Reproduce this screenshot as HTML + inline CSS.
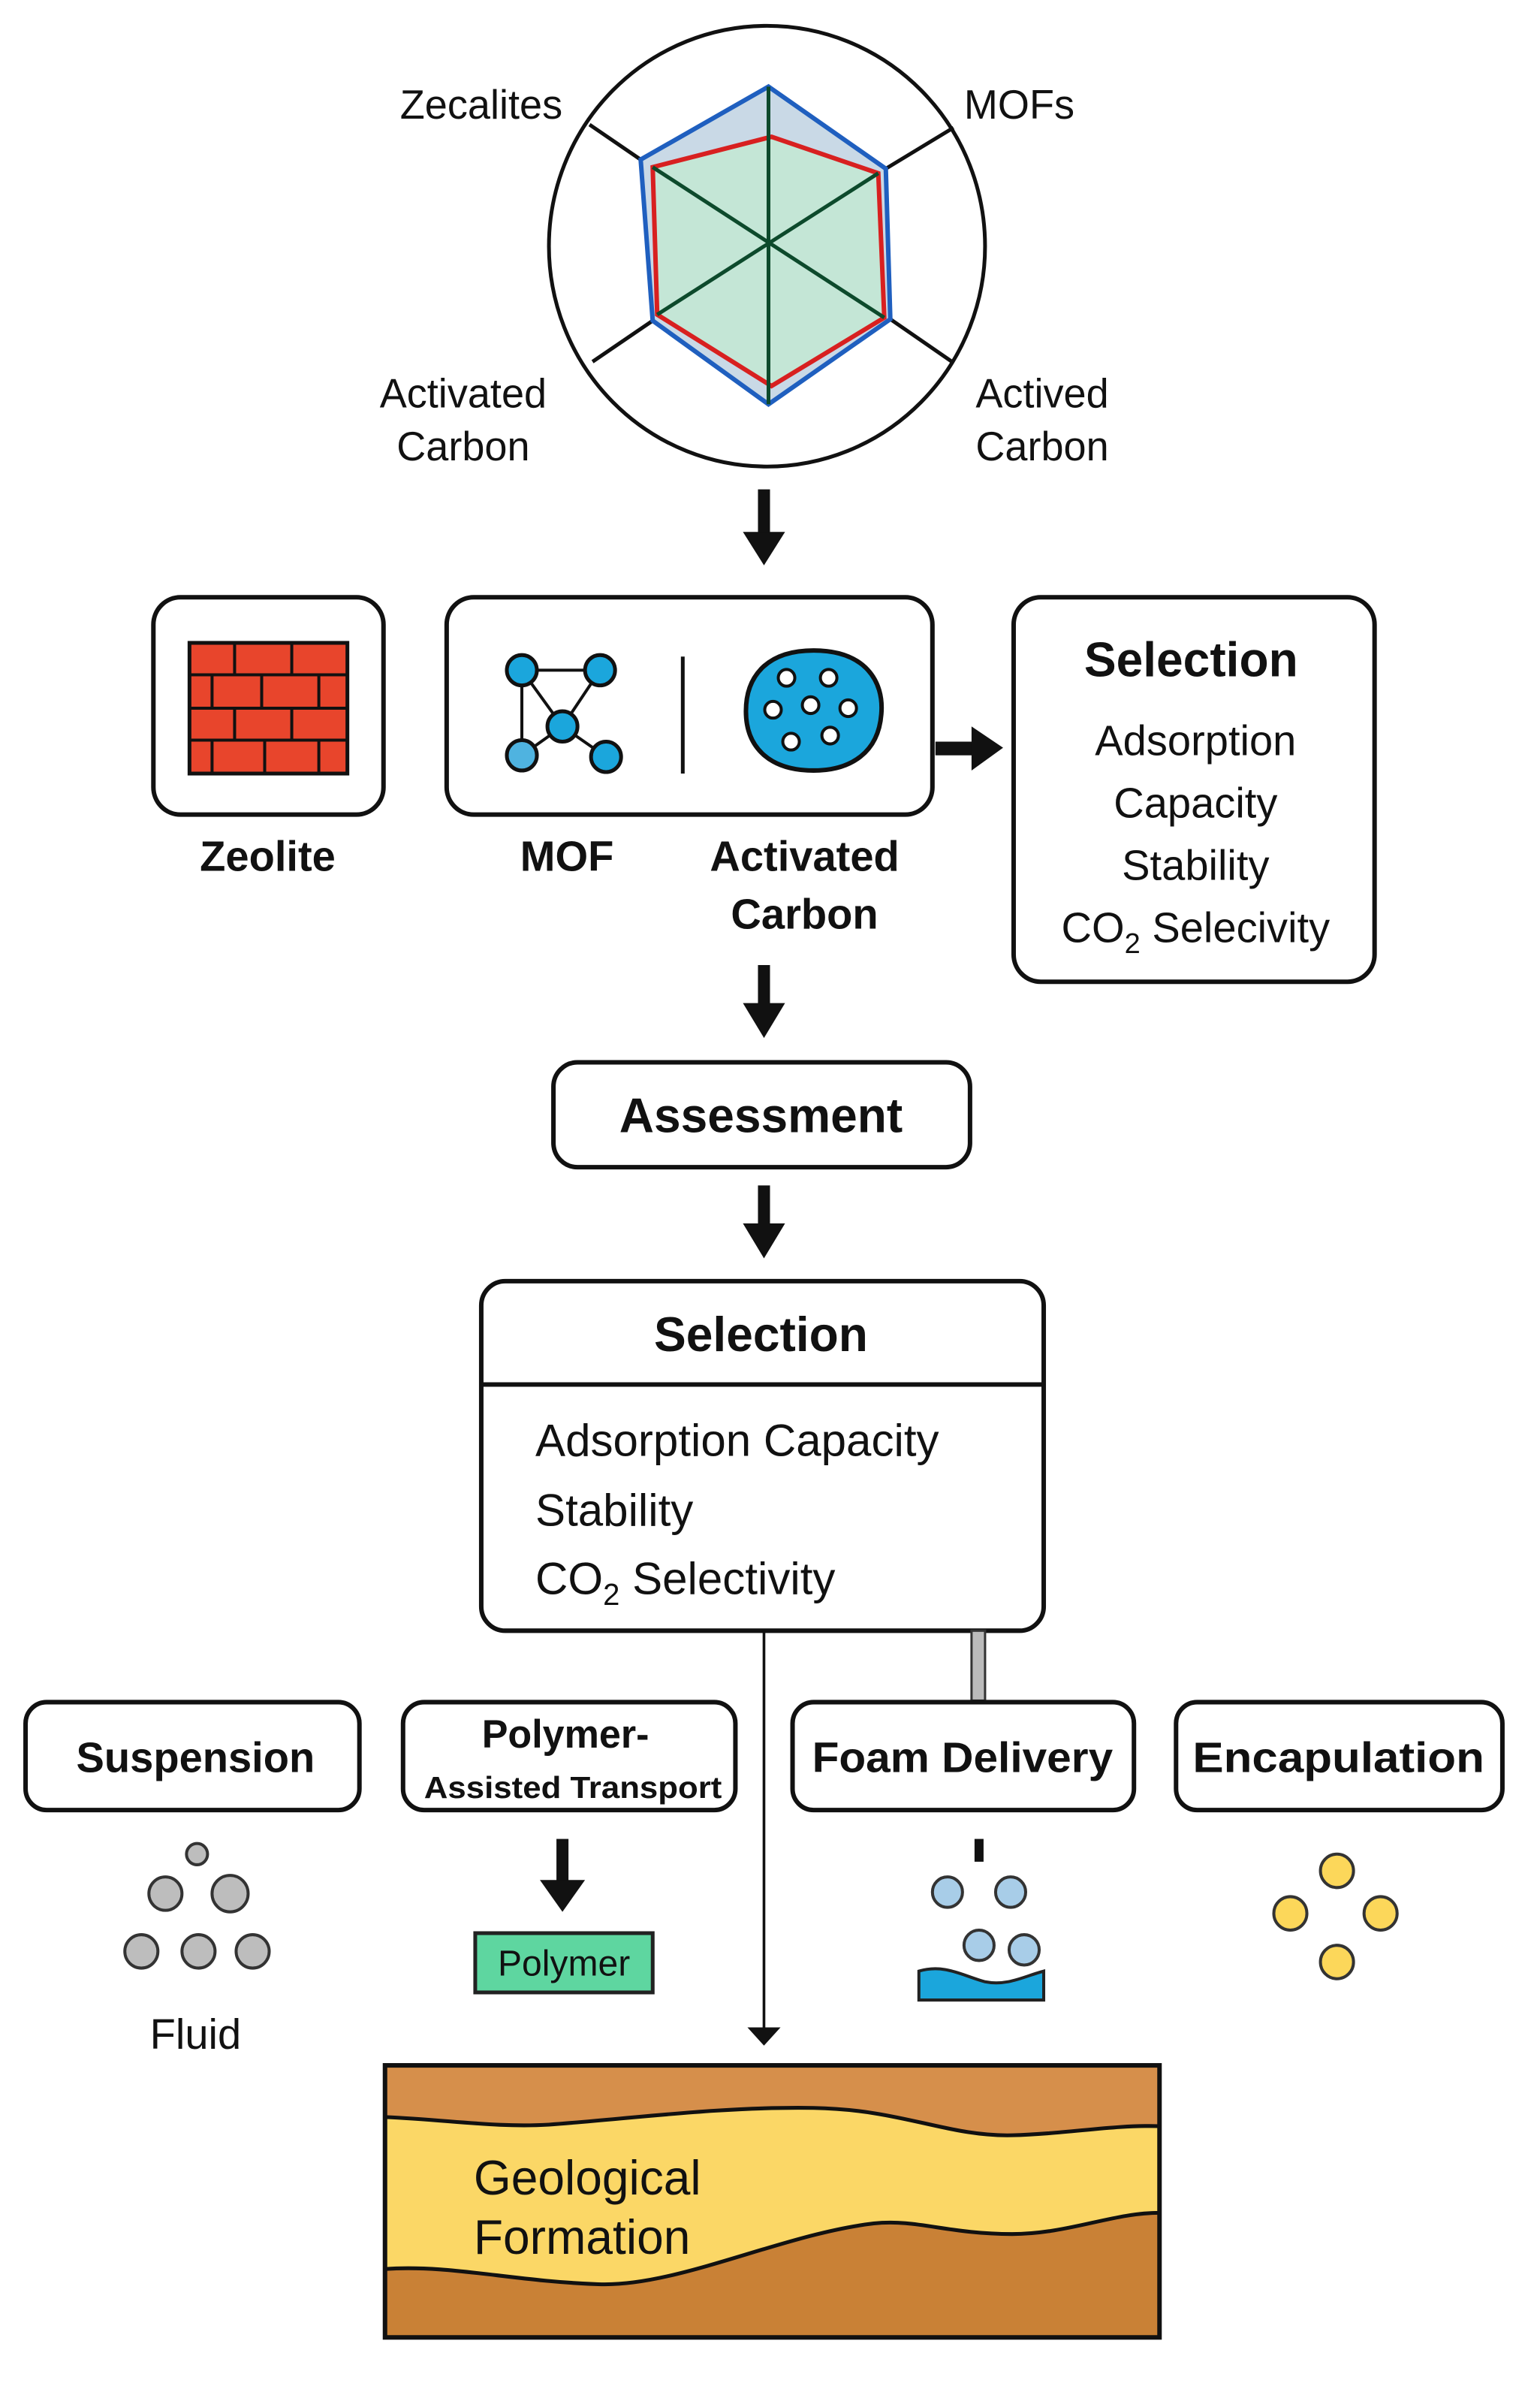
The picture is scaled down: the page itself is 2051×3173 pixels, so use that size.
<!DOCTYPE html>
<html><head><meta charset="utf-8"><style>
html,body{margin:0;padding:0;background:#fff;}
svg{display:block;}
text{font-family:"Liberation Sans",Arial,sans-serif;fill:#111;}
.b{font-weight:bold;}
</style></head><body>
<svg width="2051" height="3173" viewBox="0 0 1024 1568" preserveAspectRatio="none" xmlns="http://www.w3.org/2000/svg">
<rect width="1024" height="1568" fill="#fff"/>
<!-- radar -->
<circle cx="510" cy="162" r="145" fill="#fff" stroke="#111" stroke-width="2.5"/>
<line x1="392" y1="82" x2="426" y2="105" stroke="#111" stroke-width="2.5"/>
<line x1="634" y1="84" x2="589" y2="111" stroke="#111" stroke-width="2.5"/>
<line x1="633" y1="238" x2="592" y2="210" stroke="#111" stroke-width="2.5"/>
<line x1="394" y1="238" x2="434" y2="211" stroke="#111" stroke-width="2.5"/>
<polygon points="511,57 589,111 592,210 511,266 434,211 426,105" fill="#c9d9e6" stroke="#1f5fbf" stroke-width="3"/>
<polygon points="513,90 584,114 588,209 513,254 437,207 434,110" fill="#c4e6d6" stroke="#d82020" stroke-width="3"/>
<g stroke="#0d4a2c" stroke-width="2.5">
<line x1="511" y1="57" x2="511" y2="266"/>
<line x1="434" y1="110" x2="588" y2="209"/>
<line x1="584" y1="114" x2="437" y2="207"/>
</g>
<text x="320" y="78" font-size="27" text-anchor="middle">Zecalites</text>
<text x="641" y="78" font-size="27">MOFs</text>
<text x="308" y="268" font-size="27" text-anchor="middle">Activated</text>
<text x="308" y="303" font-size="27" text-anchor="middle">Carbon</text>
<text x="693" y="268" font-size="27" text-anchor="middle">Actived</text>
<text x="693" y="303" font-size="27" text-anchor="middle">Carbon</text>
<!-- arrow 1 -->
<rect x="504" y="322" width="8" height="30" fill="#111"/><polygon points="494,350 522,350 508,372" fill="#111"/>
<!-- zeolite -->
<rect x="102" y="393" width="153" height="143" rx="18" fill="#fff" stroke="#111" stroke-width="3"/>
<rect x="126" y="423" width="105" height="86" fill="#e8452c" stroke="#111" stroke-width="2.5"/>
<g stroke="#111" stroke-width="2">
<line x1="126" y1="444" x2="231" y2="444"/><line x1="126" y1="466" x2="231" y2="466"/><line x1="126" y1="487" x2="231" y2="487"/>
<line x1="156" y1="423" x2="156" y2="444"/><line x1="194" y1="423" x2="194" y2="444"/>
<line x1="141" y1="444" x2="141" y2="466"/><line x1="174" y1="444" x2="174" y2="466"/><line x1="212" y1="444" x2="212" y2="466"/>
<line x1="156" y1="466" x2="156" y2="487"/><line x1="194" y1="466" x2="194" y2="487"/>
<line x1="141" y1="487" x2="141" y2="509"/><line x1="176" y1="487" x2="176" y2="509"/><line x1="212" y1="487" x2="212" y2="509"/>
</g>
<text x="178" y="573" font-size="28" class="b" text-anchor="middle">Zeolite</text>
<!-- MOF / AC box -->
<rect x="297" y="393" width="323" height="143" rx="18" fill="#fff" stroke="#111" stroke-width="3"/>
<g stroke="#111" stroke-width="2">
<line x1="347" y1="441" x2="399" y2="441"/><line x1="347" y1="441" x2="347" y2="497"/><line x1="347" y1="441" x2="374" y2="478"/>
<line x1="399" y1="441" x2="374" y2="478"/><line x1="374" y1="478" x2="347" y2="497"/><line x1="374" y1="478" x2="403" y2="498"/>
</g>
<g fill="#1ba6dc" stroke="#111" stroke-width="2.5">
<circle cx="347" cy="441" r="10"/><circle cx="399" cy="441" r="10"/><circle cx="374" cy="478" r="10"/><circle cx="347" cy="497" r="10" fill="#4fb3e0"/><circle cx="403" cy="498" r="10"/>
</g>
<line x1="454" y1="432" x2="454" y2="509" stroke="#111" stroke-width="2.5"/>
<path d="M541,428 C575,428 588,448 586,470 C584,495 566,507 541,507 C512,507 496,492 496,468 C496,445 510,428 541,428 Z" fill="#1ba6dc" stroke="#111" stroke-width="3"/>
<g fill="#fff" stroke="#111" stroke-width="2">
<circle cx="523" cy="446" r="5.5"/><circle cx="551" cy="446" r="5.5"/><circle cx="514" cy="467" r="5.5"/><circle cx="539" cy="464" r="5.5"/><circle cx="564" cy="466" r="5.5"/><circle cx="526" cy="488" r="5.5"/><circle cx="552" cy="484" r="5.5"/>
</g>
<text x="377" y="573" font-size="28" class="b" text-anchor="middle">MOF</text>
<text x="535" y="573" font-size="28" class="b" text-anchor="middle">Activated</text>
<text x="535" y="611" font-size="28" class="b" text-anchor="middle">Carbon</text>
<!-- right arrow -->
<rect x="622" y="488" width="26" height="9" fill="#111"/><polygon points="646,478 646,507 667,492" fill="#111"/>
<!-- selection right -->
<rect x="674" y="393" width="240" height="253" rx="18" fill="#fff" stroke="#111" stroke-width="3"/>
<text x="792" y="445" font-size="32" class="b" text-anchor="middle">Selection</text>
<text x="795" y="497" font-size="28" text-anchor="middle">Adsorption</text>
<text x="795" y="538" font-size="28" text-anchor="middle">Capacity</text>
<text x="795" y="579" font-size="28" text-anchor="middle">Stability</text>
<text x="795" y="620" font-size="28" text-anchor="middle">CO<tspan font-size="19" dy="7">2</tspan><tspan dy="-7"> Selecivity</tspan></text>
<!-- arrow 2 -->
<rect x="504" y="635" width="8" height="27" fill="#111"/><polygon points="494,660 522,660 508,683" fill="#111"/>
<rect x="368" y="699" width="277" height="69" rx="16" fill="#fff" stroke="#111" stroke-width="3"/>
<text x="506" y="745" font-size="32" class="b" text-anchor="middle">Assessment</text>
<!-- arrow 3 -->
<rect x="504" y="780" width="8" height="27" fill="#111"/><polygon points="494,805 522,805 508,828" fill="#111"/>
<!-- selection main -->
<rect x="320" y="843" width="374" height="230" rx="16" fill="#fff" stroke="#111" stroke-width="3"/>
<line x1="320" y1="911" x2="694" y2="911" stroke="#111" stroke-width="3"/>
<text x="506" y="889" font-size="32" class="b" text-anchor="middle">Selection</text>
<text x="356" y="958" font-size="30">Adsorption Capacity</text>
<text x="356" y="1004" font-size="30">Stability</text>
<text x="356" y="1049" font-size="30">CO<tspan font-size="20" dy="7">2</tspan><tspan dy="-7"> Selectivity</tspan></text>
<!-- connectors -->
<line x1="508" y1="1073" x2="508" y2="1336" stroke="#111" stroke-width="1.8"/>
<polygon points="497,1334 519,1334 508,1346" fill="#111"/>
<rect x="646" y="1073" width="9" height="46" fill="#bbb" stroke="#333" stroke-width="1.5"/>
<!-- method boxes -->
<g fill="#fff" stroke="#111" stroke-width="3">
<rect x="17" y="1120" width="222" height="71" rx="14"/>
<rect x="268" y="1120" width="221" height="71" rx="14"/>
<rect x="527" y="1120" width="227" height="71" rx="14"/>
<rect x="782" y="1120" width="217" height="71" rx="14"/>
</g>
<text x="130" y="1166" font-size="28" class="b" text-anchor="middle">Suspension</text>
<text x="376" y="1150" font-size="26" class="b" text-anchor="middle">Polymer-</text>
<text x="381" y="1183" font-size="20" class="b" text-anchor="middle" textLength="198" lengthAdjust="spacingAndGlyphs">Assisted Transport</text>
<text x="640" y="1166" font-size="28" class="b" text-anchor="middle" textLength="200" lengthAdjust="spacingAndGlyphs">Foam Delivery</text>
<text x="890" y="1166" font-size="28" class="b" text-anchor="middle" textLength="194" lengthAdjust="spacingAndGlyphs">Encapulation</text>
<!-- suspension particles -->
<g fill="#bdbdbd" stroke="#333" stroke-width="2">
<circle cx="131" cy="1220" r="7"/><circle cx="110" cy="1246" r="11"/><circle cx="153" cy="1246" r="12"/>
<circle cx="94" cy="1284" r="11"/><circle cx="132" cy="1284" r="11"/><circle cx="168" cy="1284" r="11"/>
</g>
<text x="130" y="1348" font-size="28" text-anchor="middle">Fluid</text>
<!-- polymer -->
<rect x="370" y="1210" width="8" height="30" fill="#111"/><polygon points="359,1237 389,1237 374,1258" fill="#111"/>
<rect x="316" y="1272" width="118" height="39" fill="#5ed6a0" stroke="#222" stroke-width="2.5"/>
<text x="375" y="1300" font-size="24" text-anchor="middle">Polymer</text>
<!-- foam -->
<rect x="648" y="1210" width="6" height="15" fill="#111"/>
<g fill="#a8cde8" stroke="#333" stroke-width="2">
<circle cx="630" cy="1245" r="10"/><circle cx="672" cy="1245" r="10"/><circle cx="651" cy="1280" r="10"/><circle cx="681" cy="1283" r="10"/>
</g>
<path d="M611,1297 C628,1292 640,1300 655,1304 C670,1307 682,1300 694,1297 L694,1316 L611,1316 Z" fill="#1ba6dc" stroke="#222" stroke-width="2"/>
<!-- encap -->
<g fill="#fcd75a" stroke="#333" stroke-width="2">
<circle cx="889" cy="1231" r="11"/><circle cx="858" cy="1259" r="11"/><circle cx="918" cy="1259" r="11"/><circle cx="889" cy="1291" r="11"/>
</g>
<!-- geology -->
<rect x="256" y="1359" width="515" height="179" fill="#c98136"/>
<rect x="256" y="1359" width="515" height="45" fill="#d68f4b"/>
<path d="M256,1393 C300,1395 330,1400 365,1398 C420,1394 480,1386 541,1387 C600,1388 630,1406 673,1405 C710,1404 740,1398 771,1399 L771,1456 C740,1456 710,1470 673,1470 C630,1470 610,1460 581,1463 C520,1470 450,1505 398,1503 C340,1501 300,1490 256,1493 Z" fill="#fbd766" stroke="#111" stroke-width="2.5"/>
<rect x="256" y="1359" width="515" height="179" fill="none" stroke="#111" stroke-width="3"/>
<text x="315" y="1444" font-size="32">Geological</text>
<text x="315" y="1483" font-size="32">Formation</text>
</svg>
</body></html>
